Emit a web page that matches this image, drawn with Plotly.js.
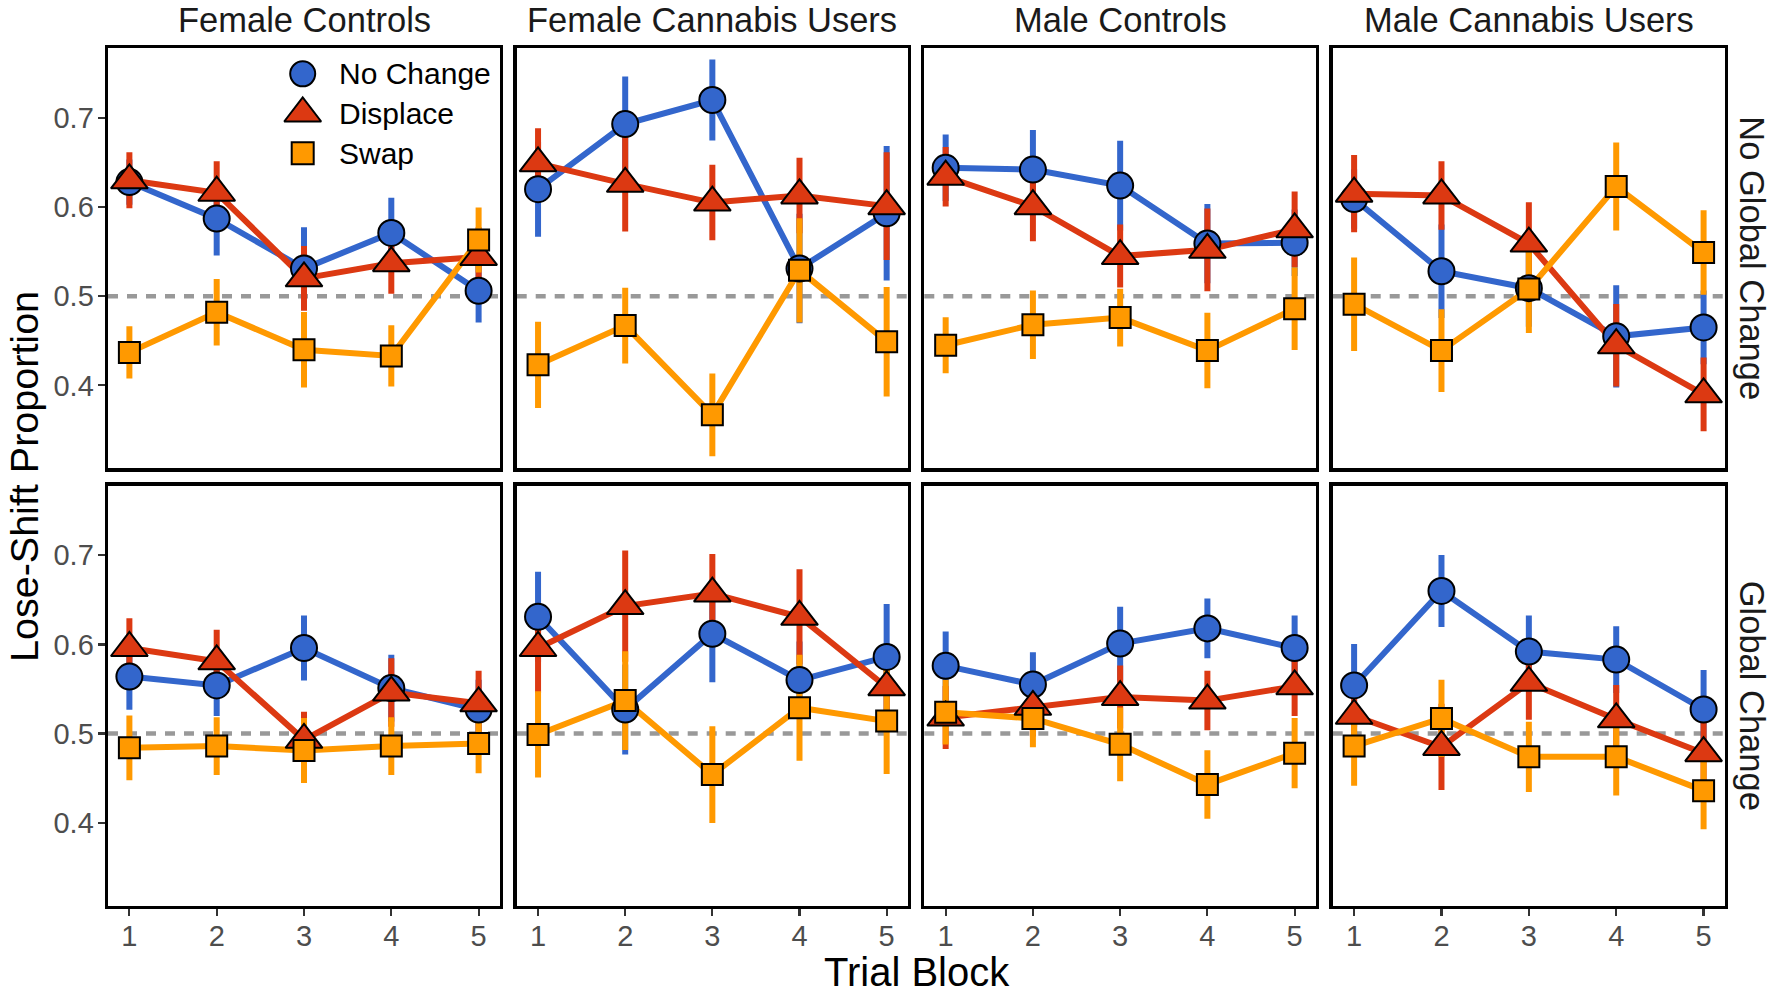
<!DOCTYPE html>
<html>
<head>
<meta charset="utf-8">
<script src="https://cdn.plot.ly/plotly-3.0.1.min.js"></script>
<style>
  html, body { margin: 0; padding: 0; background: #ffffff; }
  #chart { width: 1772px; height: 993px; }
</style>
</head>
<body>
<div id="chart"></div>
<script>
// ---------------- DATA ----------------
const BLOCKS = [1, 2, 3, 4, 5];
const GROUPS = ['Female Controls', 'Female Cannabis Users', 'Male Controls', 'Male Cannabis Users'];
const CONDITIONS = ['No Global Change', 'Global Change'];
const TYPES = ['No Change', 'Displace', 'Swap'];
const Y_TICKS = [0.4, 0.5, 0.6, 0.7];
const Y_TICK_LABELS = ['0.4', '0.5', '0.6', '0.7'];
const CHANCE = 0.5;

// Female Controls - No Global Change
const FC_NGC_NOCHANGE = [0.628, 0.587, 0.531, 0.571, 0.506];
const FC_NGC_NOCHANGE_ERR = [0.022, 0.038, 0.043, 0.036, 0.032];
const FC_NGC_DISPLACE = [0.630, 0.616, 0.520, 0.537, 0.544];
const FC_NGC_DISPLACE_ERR = [0.028, 0.032, 0.033, 0.031, 0.030];
const FC_NGC_SWAP = [0.437, 0.482, 0.440, 0.433, 0.563];
const FC_NGC_SWAP_ERR = [0.026, 0.034, 0.039, 0.031, 0.033];

// Female Cannabis Users - No Global Change
const FCU_NGC_NOCHANGE = [0.620, 0.693, 0.720, 0.531, 0.593];
const FCU_NGC_NOCHANGE_ERR = [0.050, 0.050, 0.042, 0.058, 0.072];
const FCU_NGC_DISPLACE = [0.649, 0.626, 0.605, 0.613, 0.601];
const FCU_NGC_DISPLACE_ERR = [0.036, 0.050, 0.039, 0.039, 0.057];
const FCU_NGC_SWAP = [0.423, 0.467, 0.367, 0.529, 0.449];
const FCU_NGC_SWAP_ERR = [0.045, 0.039, 0.043, 0.055, 0.058];

// Male Controls - No Global Change
const MC_NGC_NOCHANGE = [0.644, 0.642, 0.624, 0.559, 0.560];
const MC_NGC_NOCHANGE_ERR = [0.034, 0.041, 0.047, 0.041, 0.034];
const MC_NGC_DISPLACE = [0.634, 0.601, 0.545, 0.552, 0.575];
const MC_NGC_DISPLACE_ERR = [0.030, 0.036, 0.032, 0.043, 0.039];
const MC_NGC_SWAP = [0.445, 0.468, 0.476, 0.439, 0.486];
const MC_NGC_SWAP_ERR = [0.028, 0.035, 0.029, 0.039, 0.043];

// Male Cannabis Users - No Global Change
const MCU_NGC_NOCHANGE = [0.609, 0.528, 0.509, 0.455, 0.465];
const MCU_NGC_NOCHANGE_ERR = [0.030, 0.049, 0.040, 0.054, 0.038];
const MCU_NGC_DISPLACE = [0.615, 0.613, 0.559, 0.445, 0.390];
const MCU_NGC_DISPLACE_ERR = [0.040, 0.035, 0.043, 0.043, 0.038];
const MCU_NGC_SWAP = [0.491, 0.439, 0.508, 0.623, 0.549];
const MCU_NGC_SWAP_ERR = [0.049, 0.043, 0.046, 0.046, 0.044];

// Female Controls - Global Change
const FC_GC_NOCHANGE = [0.564, 0.554, 0.596, 0.551, 0.527];
const FC_GC_NOCHANGE_ERR = [0.034, 0.031, 0.033, 0.034, 0.030];
const FC_GC_DISPLACE = [0.596, 0.581, 0.493, 0.546, 0.534];
const FC_GC_DISPLACE_ERR = [0.030, 0.032, 0.028, 0.035, 0.033];
const FC_GC_SWAP = [0.484, 0.486, 0.481, 0.486, 0.489];
const FC_GC_SWAP_ERR = [0.033, 0.029, 0.033, 0.029, 0.030];

// Female Cannabis Users - Global Change
const FCU_GC_NOCHANGE = [0.631, 0.527, 0.612, 0.560, 0.586];
const FCU_GC_NOCHANGE_ERR = [0.047, 0.047, 0.051, 0.040, 0.056];
const FCU_GC_DISPLACE = [0.596, 0.643, 0.657, 0.631, 0.552];
const FCU_GC_DISPLACE_ERR = [0.047, 0.059, 0.041, 0.050, 0.040];
const FCU_GC_SWAP = [0.499, 0.537, 0.454, 0.529, 0.514];
const FCU_GC_SWAP_ERR = [0.045, 0.052, 0.051, 0.056, 0.056];

// Male Controls - Global Change
const MC_GC_NOCHANGE = [0.576, 0.555, 0.601, 0.618, 0.596];
const MC_GC_NOCHANGE_ERR = [0.035, 0.033, 0.038, 0.030, 0.033];
const MC_GC_DISPLACE = [0.518, 0.530, 0.541, 0.537, 0.553];
const MC_GC_DISPLACE_ERR = [0.032, 0.030, 0.032, 0.030, 0.030];
const MC_GC_SWAP = [0.524, 0.517, 0.488, 0.443, 0.478];
const MC_GC_SWAP_ERR = [0.033, 0.029, 0.038, 0.035, 0.036];

// Male Cannabis Users - Global Change
const MCU_GC_NOCHANGE = [0.554, 0.660, 0.592, 0.583, 0.527];
const MCU_GC_NOCHANGE_ERR = [0.043, 0.037, 0.037, 0.034, 0.041];
const MCU_GC_DISPLACE = [0.520, 0.485, 0.557, 0.516, 0.478];
const MCU_GC_DISPLACE_ERR = [0.035, 0.045, 0.038, 0.035, 0.033];
const MCU_GC_SWAP = [0.486, 0.517, 0.474, 0.474, 0.436];
const MCU_GC_SWAP_ERR = [0.041, 0.040, 0.036, 0.040, 0.040];

// panels in row-major order (row 0: No Global Change, row 1: Global Change)
const PANEL_MEANS = [
  [FC_NGC_NOCHANGE, FC_NGC_DISPLACE, FC_NGC_SWAP],
  [FCU_NGC_NOCHANGE, FCU_NGC_DISPLACE, FCU_NGC_SWAP],
  [MC_NGC_NOCHANGE, MC_NGC_DISPLACE, MC_NGC_SWAP],
  [MCU_NGC_NOCHANGE, MCU_NGC_DISPLACE, MCU_NGC_SWAP],
  [FC_GC_NOCHANGE, FC_GC_DISPLACE, FC_GC_SWAP],
  [FCU_GC_NOCHANGE, FCU_GC_DISPLACE, FCU_GC_SWAP],
  [MC_GC_NOCHANGE, MC_GC_DISPLACE, MC_GC_SWAP],
  [MCU_GC_NOCHANGE, MCU_GC_DISPLACE, MCU_GC_SWAP]
];
const PANEL_ERRS = [
  [FC_NGC_NOCHANGE_ERR, FC_NGC_DISPLACE_ERR, FC_NGC_SWAP_ERR],
  [FCU_NGC_NOCHANGE_ERR, FCU_NGC_DISPLACE_ERR, FCU_NGC_SWAP_ERR],
  [MC_NGC_NOCHANGE_ERR, MC_NGC_DISPLACE_ERR, MC_NGC_SWAP_ERR],
  [MCU_NGC_NOCHANGE_ERR, MCU_NGC_DISPLACE_ERR, MCU_NGC_SWAP_ERR],
  [FC_GC_NOCHANGE_ERR, FC_GC_DISPLACE_ERR, FC_GC_SWAP_ERR],
  [FCU_GC_NOCHANGE_ERR, FCU_GC_DISPLACE_ERR, FCU_GC_SWAP_ERR],
  [MC_GC_NOCHANGE_ERR, MC_GC_DISPLACE_ERR, MC_GC_SWAP_ERR],
  [MCU_GC_NOCHANGE_ERR, MCU_GC_DISPLACE_ERR, MCU_GC_SWAP_ERR]
];

// ---------------- STYLE / LAYOUT ----------------
const W = 1772, H = 993;
const FONT = 'Liberation Sans, Arial, Helvetica, sans-serif';
const COLORS = ['#3366CC', '#DC3912', '#FF9900'];
const SYMBOLS = ['circle', 'triangle-up', 'square'];
const SIZES = [26, 32, 21];
const COL_PX = [[108, 500], [516.7, 908], [924.3, 1316], [1332.7, 1725]];
const ROW_PX = [[48.3, 468.3], [485.7, 905.7]];
const X_RANGE = [0.755, 5.245];
const Y_RANGE = [0.307, 0.778];

const px2x = p => p / W;
const px2y = p => 1 - p / H;

const data = [];
const layout = {
  width: W, height: H,
  margin: {l: 0, r: 0, t: 0, b: 0, pad: 0},
  paper_bgcolor: '#ffffff',
  plot_bgcolor: '#ffffff',
  showlegend: false,
  font: {family: FONT, color: '#000000'},
  shapes: [],
  annotations: []
};

for (let k = 0; k < 8; k++) {
  const row = Math.floor(k / 4), col = k % 4;
  const n = k + 1;
  const xa = n === 1 ? 'x' : 'x' + n;
  const ya = n === 1 ? 'y' : 'y' + n;
  const xKey = n === 1 ? 'xaxis' : 'xaxis' + n;
  const yKey = n === 1 ? 'yaxis' : 'yaxis' + n;

  layout[xKey] = {
    domain: [px2x(COL_PX[col][0]), px2x(COL_PX[col][1])],
    range: X_RANGE, anchor: ya,
    showline: true, mirror: true, linecolor: '#000000', linewidth: 3.4,
    showgrid: false, zeroline: false,
    tickmode: 'array', tickvals: BLOCKS, ticktext: BLOCKS.map(String),
    ticks: row === 1 ? 'outside' : '', ticklen: 7, tickwidth: 2.2, tickcolor: '#333333',
    showticklabels: row === 1, ticklabelstandoff: -5,
    tickfont: {family: FONT, size: 29, color: '#4D4D4D'},
    fixedrange: true
  };
  layout[yKey] = {
    domain: [px2y(ROW_PX[row][1]), px2y(ROW_PX[row][0])],
    range: Y_RANGE, anchor: xa,
    showline: true, mirror: true, linecolor: '#000000', linewidth: 3.4,
    showgrid: false, zeroline: false,
    tickmode: 'array', tickvals: Y_TICKS, ticktext: Y_TICK_LABELS,
    ticks: col === 0 ? 'outside' : '', ticklen: 7, tickwidth: 2.2, tickcolor: '#333333',
    showticklabels: col === 0, ticklabelstandoff: -2,
    tickfont: {family: FONT, size: 29, color: '#4D4D4D'},
    fixedrange: true
  };

  // chance line
  layout.shapes.push({
    type: 'line', xref: xa + ' domain', x0: 0, x1: 1,
    yref: ya, y0: CHANCE, y1: CHANCE,
    line: {color: '#999999', width: 4.5, dash: '10px,9px'}, layer: 'below'
  });

  // error bars
  for (let t = 0; t < 3; t++) {
    data.push({
      type: 'scatter', mode: 'markers', x: BLOCKS, y: PANEL_MEANS[k][t],
      xaxis: xa, yaxis: ya, showlegend: false, hoverinfo: 'skip',
      marker: {size: 1, color: 'rgba(0,0,0,0)'},
      error_y: {type: 'data', array: PANEL_ERRS[k][t], visible: true,
                color: COLORS[t], thickness: 6, width: 3}
    });
  }
  // lines
  for (let t = 0; t < 3; t++) {
    data.push({
      type: 'scatter', mode: 'lines', x: BLOCKS, y: PANEL_MEANS[k][t],
      xaxis: xa, yaxis: ya, showlegend: false, hoverinfo: 'skip',
      line: {color: COLORS[t], width: 6}
    });
  }
  // points
  for (let t = 0; t < 3; t++) {
    data.push({
      type: 'scatter', mode: 'markers', x: BLOCKS, y: PANEL_MEANS[k][t],
      xaxis: xa, yaxis: ya, showlegend: false, name: TYPES[t],
      cliponaxis: false,
      marker: {symbol: SYMBOLS[t], size: SIZES[t], color: COLORS[t], opacity: 1,
               line: {color: '#000000', width: 2}}
    });
  }
}

// column strip titles
for (let c = 0; c < 4; c++) {
  layout.annotations.push({
    text: GROUPS[c], xref: 'paper', yref: 'paper',
    x: px2x((COL_PX[c][0] + COL_PX[c][1]) / 2), y: px2y(20),
    xanchor: 'center', yanchor: 'middle', showarrow: false,
    font: {family: FONT, size: 34.5, color: '#1A1A1A'}
  });
}
// row strip titles
for (let r = 0; r < 2; r++) {
  layout.annotations.push({
    text: CONDITIONS[r], xref: 'paper', yref: 'paper',
    x: px2x(1752), y: px2y((ROW_PX[r][0] + ROW_PX[r][1]) / 2),
    xanchor: 'center', yanchor: 'middle', textangle: 90, showarrow: false,
    font: {family: FONT, size: 34.5, color: '#1A1A1A'}
  });
}
// axis titles
layout.annotations.push({
  text: 'Lose-Shift Proportion', xref: 'paper', yref: 'paper',
  x: px2x(24), y: px2y((ROW_PX[0][0] + ROW_PX[1][1]) / 2),
  xanchor: 'center', yanchor: 'middle', textangle: -90, showarrow: false,
  font: {family: FONT, size: 39.5, color: '#000000'}
});
layout.annotations.push({
  text: 'Trial Block', xref: 'paper', yref: 'paper',
  x: px2x((COL_PX[0][0] + COL_PX[3][1]) / 2), y: px2y(972),
  xanchor: 'center', yanchor: 'middle', showarrow: false,
  font: {family: FONT, size: 40, color: '#000000'}
});

// legend (drawn inside the first panel on its own small axis)
const LEG_X0 = 280, LEG_X1 = 500;   // px
const LEG_Y0 = 54, LEG_Y1 = 173;    // px
layout.xaxis9 = {domain: [px2x(LEG_X0), px2x(LEG_X1)], range: [0, 1], visible: false,
                 anchor: 'y9', fixedrange: true};
layout.yaxis9 = {domain: [px2y(LEG_Y1), px2y(LEG_Y0)], range: [TYPES.length - 0.5, -0.5],
                 visible: false, anchor: 'x9', fixedrange: true};
const LEG_IDX = TYPES.map((_, i) => i);
const LEG_MARK_X = (302.7 - LEG_X0) / (LEG_X1 - LEG_X0);
const LEG_TEXT_X = (337 - LEG_X0) / (LEG_X1 - LEG_X0);
data.push({
  type: 'scatter', mode: 'markers', xaxis: 'x9', yaxis: 'y9',
  x: LEG_IDX.map(() => LEG_MARK_X), y: LEG_IDX,
  showlegend: false, hoverinfo: 'skip', cliponaxis: false,
  marker: {symbol: SYMBOLS, size: [25, 32, 22], color: COLORS, opacity: 1,
           line: {color: '#000000', width: 2}}
});
TYPES.forEach((name, i) => {
  layout.annotations.push({
    text: name, xref: 'x9', yref: 'y9', x: LEG_TEXT_X, y: i,
    xanchor: 'left', yanchor: 'middle', showarrow: false,
    font: {family: FONT, size: 30, color: '#000000'}
  });
});

Plotly.newPlot('chart', data, layout, {displayModeBar: false, staticPlot: true});
</script>
</body>
</html>
